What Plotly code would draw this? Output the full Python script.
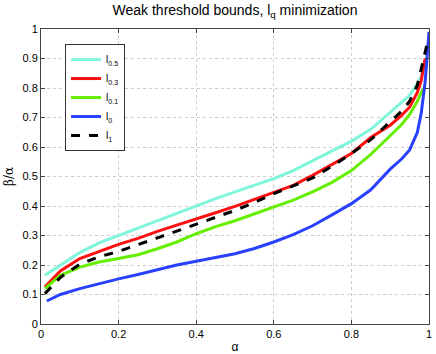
import plotly.graph_objects as go

alpha = [0.01, 0.05, 0.1, 0.15, 0.2, 0.25, 0.3, 0.35, 0.4, 0.45, 0.5, 0.55, 0.6,
         0.65, 0.7, 0.75, 0.8, 0.85, 0.9, 0.93, 0.95, 0.97, 0.98, 0.99]
alpha_l0 = [0.015, 0.05, 0.1, 0.15, 0.2, 0.25, 0.3, 0.35, 0.4, 0.45, 0.5, 0.55, 0.6,
            0.65, 0.7, 0.75, 0.8, 0.85, 0.9, 0.93, 0.95, 0.97, 0.98, 0.99, 0.995, 1.0]
alpha_l1 = alpha + [0.997]

l05 = [0.165, 0.198, 0.242, 0.275, 0.300, 0.327, 0.350, 0.375, 0.400, 0.425, 0.448, 0.470,
       0.493, 0.520, 0.553, 0.585, 0.620, 0.660, 0.718, 0.750, 0.775, 0.815, 0.840, 0.880]
l03 = [0.125, 0.180, 0.222, 0.247, 0.270, 0.290, 0.314, 0.335, 0.355, 0.377, 0.399, 0.423,
       0.448, 0.470, 0.504, 0.540, 0.578, 0.632, 0.674, 0.708, 0.735, 0.785, 0.825, 0.900]
l01 = [0.120, 0.165, 0.193, 0.210, 0.222, 0.235, 0.255, 0.278, 0.306, 0.330, 0.350, 0.373,
       0.397, 0.420, 0.448, 0.480, 0.520, 0.575, 0.638, 0.677, 0.710, 0.755, 0.785, 0.805]
l0 = [0.078, 0.100, 0.120, 0.137, 0.153, 0.168, 0.185, 0.200, 0.213, 0.226, 0.238, 0.256,
      0.278, 0.303, 0.333, 0.370, 0.408, 0.455, 0.525, 0.560, 0.590, 0.650, 0.715, 0.820,
      0.900, 0.990]
l1 = [0.103, 0.158, 0.203, 0.228, 0.246, 0.268, 0.292, 0.315, 0.338, 0.360, 0.385, 0.412,
      0.442, 0.468, 0.495, 0.535, 0.578, 0.625, 0.685, 0.722, 0.755, 0.810, 0.865, 0.915, 0.960]

names = ["l<sub>0.5</sub>", "l<sub>0.3</sub>", "l<sub>0.1</sub>", "l<sub>0</sub>", "l<sub>1</sub>"]
xs = [alpha, alpha, alpha, alpha_l0, alpha_l1]
ys = [l05, l03, l01, l0, l1]
colors = ["#7ff5dc", "#ff1010", "#66ee00", "#2a40ff", "#000000"]
dashes = ["solid", "solid", "solid", "solid", "dash"]

xticks = [0, 0.2, 0.4, 0.6, 0.8, 1]
xticklabels = ["0", "0.2", "0.4", "0.6", "0.8", "1"]
yticks = [0, 0.1, 0.2, 0.3, 0.4, 0.5, 0.6, 0.7, 0.8, 0.9, 1]
yticklabels = ["0", "0.1", "0.2", "0.3", "0.4", "0.5", "0.6", "0.7", "0.8", "0.9", "1"]

fig = go.Figure()
for x, y, n, c, d in zip(xs, ys, names, colors, dashes):
    fig.add_trace(go.Scatter(x=x, y=y, name=n, mode="lines",
                             line=dict(color=c, width=3, dash=d)))

font = "Liberation Sans, Arial, sans-serif"
axis_common = dict(showline=True, mirror="allticks", linecolor="#444", linewidth=1,
                   ticks="inside", ticklen=4, tickcolor="#444",
                   showgrid=True, gridcolor="#cccccc", griddash="dot", gridwidth=1,
                   zeroline=False, automargin=False,
                   tickfont=dict(size=11, color="black", family=font))

fig.update_layout(
    width=436, height=354,
    margin=dict(l=41, r=7, t=29, b=30),
    paper_bgcolor="white", plot_bgcolor="white",
    font=dict(family=font, color="black"),
    title=dict(text="Weak threshold bounds, l<sub>q</sub> minimization",
               x=0.5, xref="paper", xanchor="center", y=0.985, yanchor="top",
               font=dict(size=14, color="black", family=font)),
    xaxis=dict(range=[0, 1], tickvals=xticks, ticktext=xticklabels,
               title=dict(text="α", standoff=3, font=dict(size=12)), **axis_common),
    yaxis=dict(range=[0, 1], tickvals=yticks, ticktext=yticklabels,
               title=dict(text="β/α", standoff=6, font=dict(size=12, family="DejaVu Serif, serif")),
               **axis_common),
    legend=dict(x=0.062, y=0.949, xanchor="left", yanchor="top",
                bgcolor="white", bordercolor="#333", borderwidth=1,
                font=dict(size=10, color="black", family=font),
                tracegroupgap=0, itemwidth=30),
    showlegend=True,
)

fig.write_html("out.html", config={"displayModeBar": False})

# remove the browser's default page margin so the figure sits at the window's corner
with open("out.html", "r", encoding="utf-8") as f:
    html = f.read()
html = html.replace("<head>", "<head><style>html,body{margin:0;padding:0;}</style>", 1)
with open("out.html", "w", encoding="utf-8") as f:
    f.write(html)
